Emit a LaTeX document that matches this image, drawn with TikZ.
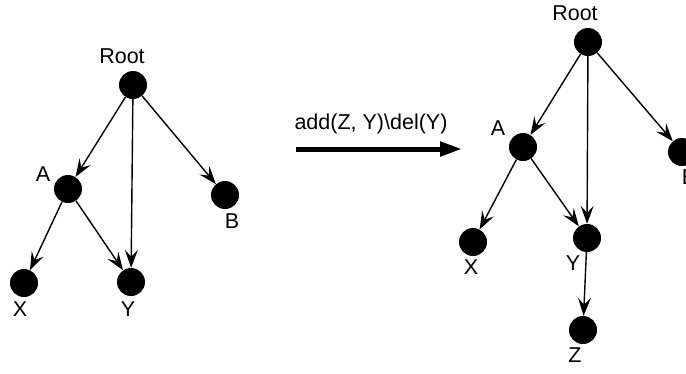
\documentclass[tikz,border=0pt]{standalone}
\usepackage{fontspec}
\setmainfont{Liberation Sans}
\usetikzlibrary{arrows.meta}

\begin{document}
\begin{tikzpicture}[x=1pt,y=-1pt,
		dot/.style={circle,fill=black,minimum size=28pt,inner sep=0pt},
		txt/.style={font=\fontsize{21.5}{25}\selectfont,inner sep=0pt},
		edge/.style={line width=1.4pt,-{Stealth[length=18pt,width=13pt,inset=7pt]}}]
		%%%%% START %%%%%
		\useasboundingbox (0,0) rectangle (686,373);
		\clip (0,0) rectangle (686,373);
		
		% before
		\node[dot] (l-root) at (133,85) {};
		\node[dot] (l-a) at (68,189) {};
		\node[dot] (l-b) at (225,195) {};
		\node[dot] (l-x) at (24,283) {};
		\node[dot] (l-y) at (131,282) {};
		
		\node[txt] (l-root-t) at (122,56) {Root};
		\node[txt] (l-a-t) at (43,174) {A};
		\node[txt] (l-b-t) at (232,221) {B};
		\node[txt] (l-x-t) at (20,309) {X};
		\node[txt] (l-y-t) at (128,309) {Y};
		
		\draw[edge] (l-root) -- (l-a);
		\draw[edge] (l-root) -- (l-y);
		\draw[edge] (l-root) -- (l-b);
		\draw[edge] (l-a) -- (l-x);
		\draw[edge] (l-a) -- (l-y);
		
		% operation
		\coordinate (op-s) at (296,149);
		\coordinate (op-e) at (462,149);
		\draw[line width=5pt,-{Triangle[length=22pt,width=14pt]}] (op-s) -- (op-e);
		\node[txt] (op-t) at (371,124) {add(Z, Y)\textbackslash del(Y)};
		
		% after
		\node[dot] (r-root) at (588,42) {};
		\node[dot] (r-a) at (523,147) {};
		\node[dot] (r-b) at (682,152) {};
		\node[dot] (r-x) at (473,242) {};
		\node[dot] (r-y) at (587,238) {};
		\node[dot] (r-z) at (583,330) {};
		
		\node[txt] (r-root-t) at (575,13) {Root};
		\node[txt] (r-a-t) at (498,128) {A};
		\node[txt] (r-b-t) at (689,177) {B};
		\node[txt] (r-x-t) at (471,267) {X};
		\node[txt] (r-y-t) at (573,263) {Y};
		\node[txt] (r-z-t) at (575,355) {Z};
		
		\draw[edge] (r-root) -- (r-a);
		\draw[edge] (r-root) -- (r-y);
		\draw[edge] (r-root) -- (r-b);
		\draw[edge] (r-a) -- (r-x);
		\draw[edge] (r-a) -- (r-y);
		\draw[edge] (r-y) -- (r-z);
		%%%%% END %%%%%
	\end{tikzpicture}
\end{document}
